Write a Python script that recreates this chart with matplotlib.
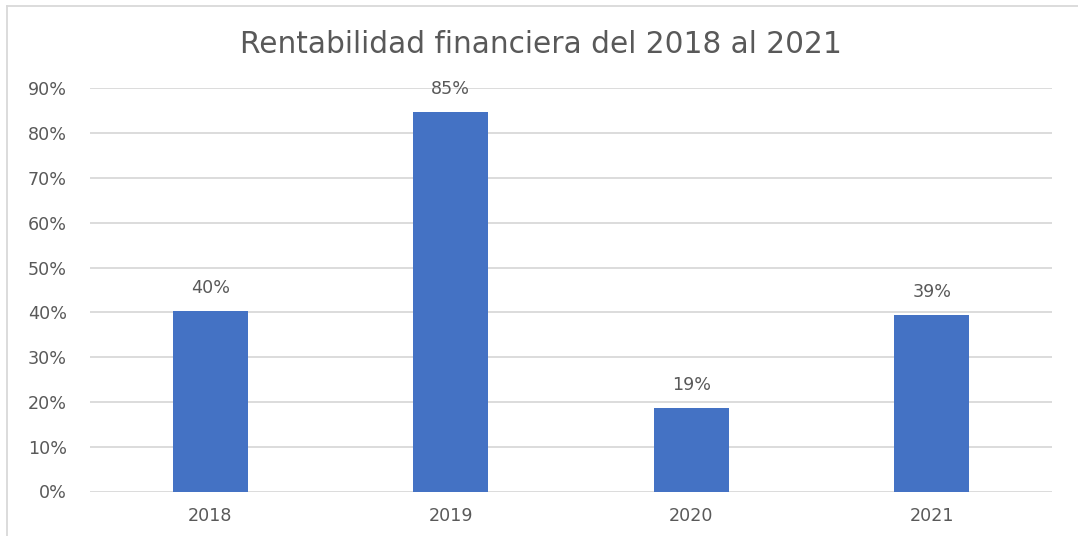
import matplotlib
matplotlib.use("Agg")
import matplotlib.pyplot as plt
from matplotlib.lines import Line2D
from matplotlib.ticker import FuncFormatter

years = ["2018", "2019", "2020", "2021"]
values = [0.404, 0.848, 0.187, 0.394]
labels = ["40%", "85%", "19%", "39%"]
yticks = [0, 0.1, 0.2, 0.3, 0.4, 0.5, 0.6, 0.7, 0.8, 0.9]

W, H = 1078, 536
plt.rcParams['font.family'] = ['DejaVu Sans']
fig = plt.figure(figsize=(W / 100, H / 100), dpi=100)
txt = '#595959'

ax = fig.add_axes([90 / W, (H - 491.5) / H, (1052 - 90) / W, (491 - 88) / H])
x = range(len(years))
ax.bar(x, values, width=0.31, color='#4472C4', zorder=3)
ax.set_xlim(-0.5, len(years) - 0.5)
ax.set_ylim(0, 0.9)
ax.set_yticks(yticks)
ax.yaxis.set_major_formatter(FuncFormatter(lambda v, p: f"{v*100:.0f}%"))
ax.set_xticks(list(x))
ax.set_xticklabels(years)
ax.tick_params(axis='both', length=0, colors=txt, labelsize=12.6)
ax.tick_params(axis='y', pad=16.5)
ax.tick_params(axis='x', pad=11)
ax.grid(axis='y', color='#D9D9D9', linewidth=1.3, zorder=0)
for s in ax.spines.values():
    s.set_visible(False)

for xi, v, lab in zip(x, values, labels):
    ax.annotate(lab, (xi, v), xytext=(0, 10), textcoords='offset points',
                ha='center', va='bottom', color=txt, fontsize=12.6)

fig.text(541 / W, 1 - 53 / H, "Rentabilidad financiera del 2018 al 2021",
         ha='center', va='baseline', color=txt, fontsize=21.3)

fig.add_artist(Line2D([7 / W, 7 / W], [0, 1 - 6 / H], color='#D9D9D9', linewidth=1.3,
                      transform=fig.transFigure))
fig.add_artist(Line2D([7 / W, 1], [1 - 6 / H, 1 - 6 / H], color='#D9D9D9', linewidth=1.3,
                      transform=fig.transFigure))

fig.savefig("out.png", dpi=100, facecolor='white')
